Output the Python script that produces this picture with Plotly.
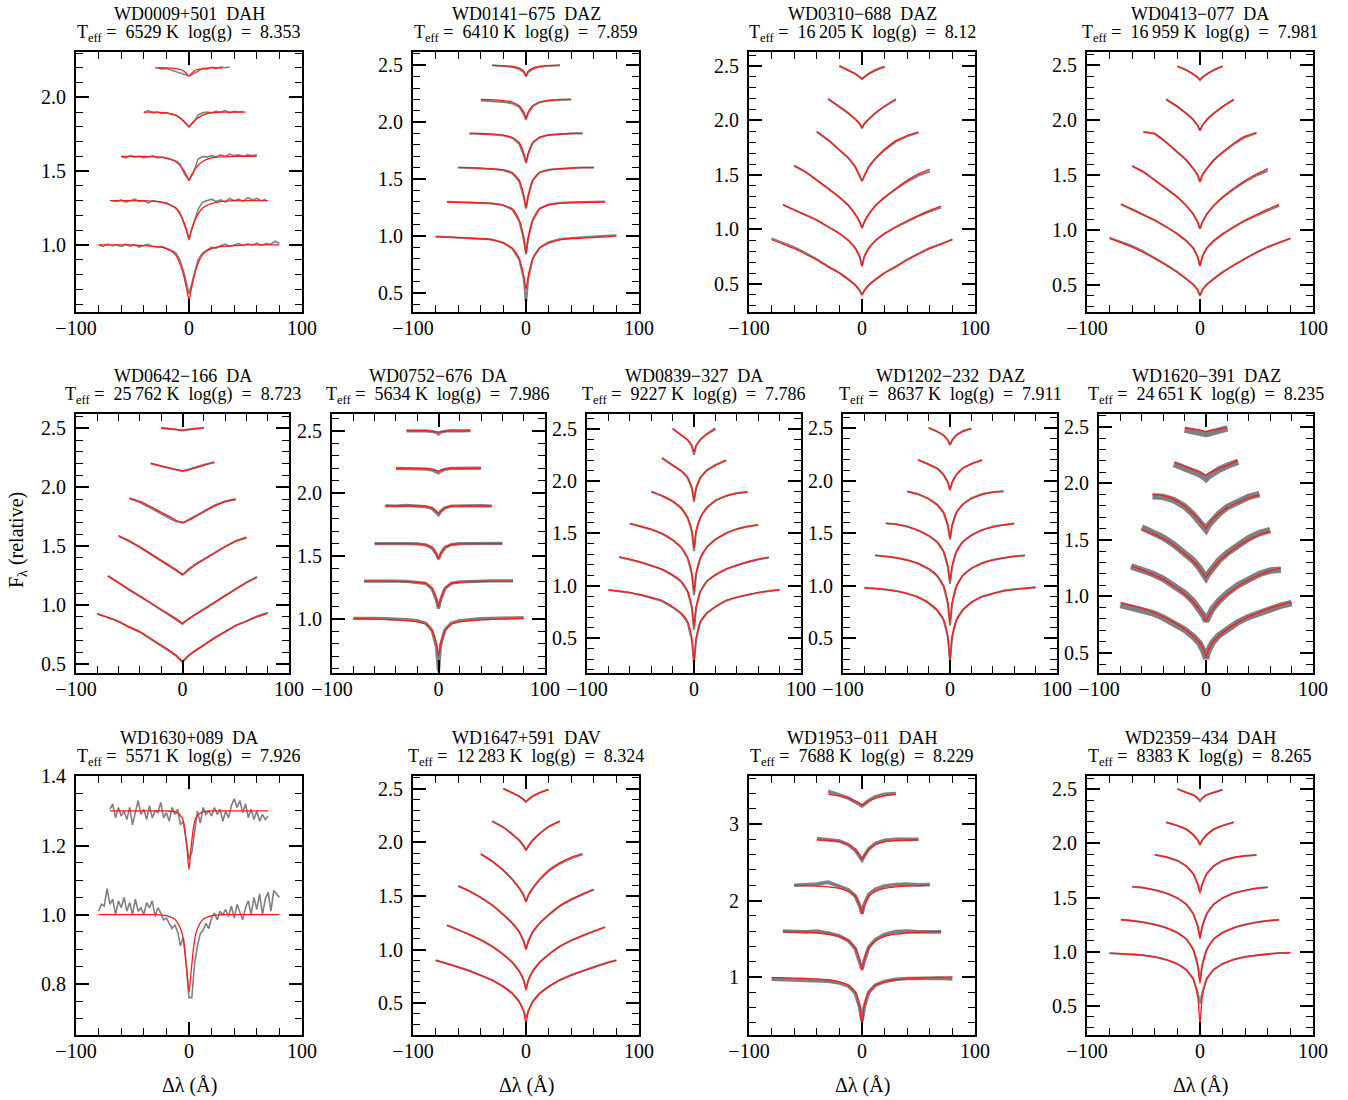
import plotly.graph_objects as go

N = None

# Wavelength offsets (Angstrom) of the sampled model / spectrum points
DL = [-80, -70, -60, -50, -40, -30, -20, -12, -6, -2, 0, 2, 6, 12, 20, 30, 40, 50, 60, 70, 80]

STARS = ["WD0009+501", "WD0141\u2212675", "WD0310\u2212688", "WD0413\u2212077",
         "WD0642\u2212166", "WD0752\u2212676", "WD0839\u2212327", "WD1202\u2212232", "WD1620\u2212391",
         "WD1630+089", "WD1647+591", "WD1953\u2212011", "WD2359\u2212434"]
SPTYPE = ["DAH", "DAZ", "DAZ", "DA", "DA", "DA", "DA", "DAZ", "DAZ", "DA", "DAV", "DAH", "DAH"]
TEFF = [6529, 6410, 16205, 16959, 25762, 5634, 9227, 8637, 24651, 5571, 12283, 7688, 8383]
LOGG = ["8.353", "7.859", "8.12", "7.981", "8.723", "7.986", "7.786", "7.911", "8.235",
        "7.926", "8.324", "8.229", "8.265"]

# ---------------- WD0009+501 (spectrum sampled every 4 A) ----------------
WD0009_MODEL = [
    [1.0, 1.0, 1.0, 1.0, 0.995, 0.99, 0.975, 0.935, 0.83, 0.70, 0.63, 0.70, 0.83, 0.935, 0.975, 0.99, 0.995, 1.0, 1.0, 1.0, 1.0],
    [N, 1.3, 1.3, 1.3, 1.3, 1.295, 1.28, 1.25, 1.18, 1.10, 1.035, 1.10, 1.18, 1.25, 1.28, 1.295, 1.3, 1.3, 1.3, 1.3, N],
    [N, N, 1.6, 1.6, 1.6, 1.597, 1.59, 1.565, 1.52, 1.47, 1.435, 1.47, 1.52, 1.565, 1.59, 1.597, 1.6, 1.6, 1.6, N, N],
    [N, N, N, N, 1.9, 1.9, 1.895, 1.88, 1.85, 1.82, 1.80, 1.82, 1.85, 1.88, 1.895, 1.9, 1.9, 1.9, N, N, N],
    [N, N, N, N, N, 2.2, 2.2, 2.195, 2.185, 2.16, 2.145, 2.16, 2.185, 2.195, 2.2, 2.2, N, N, N, N, N],
]
WD0009_OBS_START = [-80, -68, -60, -40, -28]
WD0009_OBS = [
    [1.0, 0.99, 1.005, 0.995, 1.0, 0.99, 1.005, 0.992, 1.0, 0.985, 0.997, 1.005, 0.99, 0.985, 0.99, 0.975,
     0.965, 0.95, 0.90, 0.80, 0.67, 0.79, 0.90, 0.945, 0.965, 0.985, 0.978, 0.995, 1.005, 0.99, 1.0, 1.01,
     0.995, 1.008, 1.0, 1.012, 0.997, 1.01, 1.004, 1.025, 1.01],
    [1.30, 1.295, 1.305, 1.29, 1.30, 1.31, 1.295, 1.30, 1.285, 1.30, 1.295, 1.29, 1.285, 1.27, 1.255, 1.22,
     1.13, 1.045, 1.14, 1.24, 1.29, 1.30, 1.31, 1.295, 1.305, 1.29, 1.315, 1.30, 1.31, 1.295, 1.32, 1.305,
     1.315, 1.30, 1.31],
    [1.60, 1.59, 1.605, 1.595, 1.60, 1.59, 1.598, 1.603, 1.59, 1.595, 1.585, 1.58, 1.57, 1.55, 1.48, 1.44,
     1.49, 1.58, 1.60, 1.595, 1.605, 1.598, 1.61, 1.60, 1.615, 1.605, 1.61, 1.60, 1.61, 1.605, 1.61],
    [1.895, 1.91, 1.895, 1.90, 1.89, 1.895, 1.885, 1.88, 1.86, 1.83, 1.80, 1.83, 1.88, 1.895, 1.90, 1.895,
     1.905, 1.90, 1.91, 1.895, 1.905, 1.90, 1.905],
    [2.20, 2.19, 2.195, 2.185, 2.175, 2.165, 2.15, 2.145, 2.16, 2.18, 2.195, 2.19, 2.205, 2.195, 2.205, 2.20, 2.205],
]

# ---------------- WD0141-675 ----------------
WD0141_MODEL = [
    [0.99, 0.99, 0.985, 0.98, 0.975, 0.965, 0.935, 0.89, 0.80, 0.65, 0.53, 0.65, 0.80, 0.89, 0.935, 0.965, 0.975, 0.98, 0.985, 0.99, 1.0],
    [N, 1.297, 1.295, 1.293, 1.29, 1.285, 1.27, 1.235, 1.14, 0.99, 0.85, 0.99, 1.14, 1.235, 1.27, 1.285, 1.29, 1.293, 1.295, 1.297, N],
    [N, N, 1.6, 1.6, 1.595, 1.59, 1.58, 1.555, 1.49, 1.36, 1.25, 1.36, 1.49, 1.555, 1.58, 1.59, 1.595, 1.6, 1.6, N, N],
    [N, N, N, 1.9, 1.9, 1.895, 1.885, 1.865, 1.82, 1.73, 1.65, 1.73, 1.82, 1.865, 1.885, 1.895, 1.9, 1.9, N, N, N],
    [N, N, N, N, 2.2, 2.198, 2.19, 2.175, 2.145, 2.09, 2.04, 2.09, 2.145, 2.175, 2.19, 2.198, 2.2, N, N, N, N],
    [N, N, N, N, N, 2.5, 2.497, 2.49, 2.475, 2.45, 2.41, 2.45, 2.475, 2.49, 2.497, 2.5, N, N, N, N, N],
]
WD0141_OBS = [
    [0.995, 0.99, 0.985, 0.98, 0.978, 0.968, 0.94, 0.885, 0.79, 0.62, 0.40, 0.62, 0.80, 0.895, 0.945, 0.972, 0.982, 0.99, 0.995, 1.0, 1.005],
    [N, 1.30, 1.297, 1.293, 1.29, 1.284, 1.268, 1.23, 1.13, 0.97, 0.84, 0.98, 1.14, 1.24, 1.275, 1.29, 1.295, 1.297, 1.3, 1.302, N],
    [N, N, 1.6, 1.598, 1.594, 1.588, 1.577, 1.55, 1.48, 1.34, 1.24, 1.35, 1.49, 1.558, 1.582, 1.592, 1.597, 1.6, 1.602, N, N],
    [N, N, N, 1.9, 1.898, 1.892, 1.882, 1.86, 1.81, 1.71, 1.64, 1.72, 1.82, 1.865, 1.888, 1.897, 1.9, 1.902, N, N, N],
    [N, N, N, N, 2.19, 2.185, 2.178, 2.165, 2.135, 2.07, 2.02, 2.08, 2.14, 2.175, 2.19, 2.198, 2.2, N, N, N, N],
    [N, N, N, N, N, 2.5, 2.495, 2.485, 2.468, 2.44, 2.40, 2.44, 2.468, 2.487, 2.495, 2.5, N, N, N, N, N],
]

# ---------------- WD0310-688 ----------------
WD0310_MODEL = [
    [0.908, 0.865, 0.826, 0.774, 0.72, 0.657, 0.60, 0.54, 0.49, 0.44, 0.398, 0.44, 0.49, 0.54, 0.60, 0.657, 0.72, 0.774, 0.826, 0.865, 0.908],
    [N, 1.229, 1.18, 1.135, 1.086, 1.025, 0.963, 0.90, 0.83, 0.75, 0.667, 0.75, 0.83, 0.90, 0.963, 1.025, 1.08, 1.13, 1.175, 1.214, N],
    [N, N, 1.586, 1.53, 1.454, 1.378, 1.295, 1.22, 1.14, 1.07, 1.015, 1.07, 1.14, 1.22, 1.295, 1.375, 1.45, 1.51, 1.552, N, N],
    [N, N, N, N, 1.899, 1.823, 1.73, 1.655, 1.575, 1.49, 1.445, 1.49, 1.575, 1.655, 1.735, 1.815, 1.862, 1.893, N, N, N],
    [N, N, N, N, N, 2.199, 2.128, 2.067, 2.012, 1.97, 1.93, 1.97, 2.012, 2.07, 2.13, 2.19, N, N, N, N, N],
    [N, N, N, N, N, N, 2.5, 2.457, 2.427, 2.396, 2.38, 2.396, 2.427, 2.46, 2.49, N, N, N, N, N, N],
]
WD0310_OBS = [
    [0.918, 0.878, 0.838, 0.785, 0.728, 0.662, 0.602, 0.542, 0.49, 0.44, 0.40, 0.44, 0.49, 0.542, 0.603, 0.662, 0.725, 0.778, 0.83, 0.868, 0.908],
    [N, 1.225, 1.178, 1.133, 1.085, 1.025, 0.963, 0.90, 0.83, 0.75, 0.665, 0.75, 0.83, 0.90, 0.962, 1.022, 1.075, 1.122, 1.165, 1.20, N],
    [N, N, 1.583, 1.528, 1.452, 1.377, 1.295, 1.22, 1.14, 1.07, 1.015, 1.07, 1.14, 1.22, 1.293, 1.37, 1.44, 1.495, 1.532, N, N],
    [N, N, N, N, 1.895, 1.82, 1.728, 1.655, 1.575, 1.49, 1.445, 1.49, 1.575, 1.652, 1.728, 1.805, 1.855, 1.888, N, N, N],
    [N, N, N, N, N, 2.197, 2.126, 2.065, 2.012, 1.97, 1.93, 1.97, 2.012, 2.068, 2.13, 2.195, N, N, N, N, N],
    [N, N, N, N, N, N, 2.5, 2.46, 2.43, 2.398, 2.382, 2.398, 2.43, 2.465, 2.495, N, N, N, N, N, N],
]

# ---------------- WD0413-077 ----------------
WD0413_MODEL = [
    [0.924, 0.885, 0.845, 0.795, 0.74, 0.68, 0.615, 0.555, 0.505, 0.455, 0.407, 0.455, 0.505, 0.555, 0.615, 0.68, 0.74, 0.795, 0.845, 0.885, 0.924],
    [N, 1.237, 1.19, 1.14, 1.09, 1.03, 0.965, 0.90, 0.835, 0.755, 0.675, 0.755, 0.835, 0.90, 0.965, 1.03, 1.09, 1.14, 1.19, 1.234, N],
    [N, N, 1.585, 1.53, 1.455, 1.38, 1.30, 1.22, 1.145, 1.07, 1.015, 1.07, 1.145, 1.22, 1.30, 1.38, 1.45, 1.51, 1.56, N, N],
    [N, N, N, 1.894, 1.878, 1.80, 1.71, 1.635, 1.56, 1.50, 1.44, 1.50, 1.56, 1.635, 1.71, 1.79, 1.855, 1.888, N, N, N],
    [N, N, N, N, N, 2.19, 2.125, 2.06, 2.005, 1.95, 1.91, 1.95, 2.005, 2.06, 2.125, 2.19, N, N, N, N, N],
    [N, N, N, N, N, N, 2.49, 2.455, 2.42, 2.39, 2.37, 2.39, 2.42, 2.455, 2.49, N, N, N, N, N, N],
]
WD0413_OBS = [
    [0.93, 0.895, 0.855, 0.805, 0.748, 0.686, 0.618, 0.556, 0.505, 0.455, 0.40, 0.455, 0.505, 0.556, 0.617, 0.682, 0.742, 0.797, 0.846, 0.886, 0.924],
    [N, 1.235, 1.188, 1.138, 1.088, 1.03, 0.965, 0.90, 0.835, 0.755, 0.675, 0.755, 0.835, 0.90, 0.963, 1.027, 1.085, 1.132, 1.178, 1.22, N],
    [N, N, 1.583, 1.528, 1.453, 1.378, 1.30, 1.22, 1.145, 1.07, 1.012, 1.07, 1.145, 1.22, 1.297, 1.372, 1.44, 1.497, 1.54, N, N],
    [N, N, N, 1.892, 1.876, 1.80, 1.71, 1.635, 1.56, 1.50, 1.44, 1.50, 1.56, 1.633, 1.705, 1.782, 1.845, 1.882, N, N, N],
    [N, N, N, N, N, 2.19, 2.124, 2.06, 2.005, 1.95, 1.905, 1.95, 2.005, 2.06, 2.123, 2.188, N, N, N, N, N],
    [N, N, N, N, N, N, 2.492, 2.456, 2.42, 2.39, 2.365, 2.39, 2.42, 2.456, 2.492, N, N, N, N, N, N],
]

# ---------------- WD0642-166 ----------------
WD0642_MODEL = [
    [0.924, 0.895, 0.86, 0.816, 0.774, 0.717, 0.66, 0.615, 0.575, 0.54, 0.52, 0.54, 0.575, 0.615, 0.66, 0.72, 0.775, 0.825, 0.865, 0.90, 0.93],
    [N, 1.246, 1.19, 1.127, 1.076, 1.02, 0.963, 0.92, 0.885, 0.86, 0.845, 0.86, 0.885, 0.92, 0.963, 1.02, 1.08, 1.135, 1.19, 1.235, N],
    [N, N, 1.588, 1.54, 1.494, 1.437, 1.38, 1.335, 1.30, 1.27, 1.255, 1.27, 1.30, 1.34, 1.385, 1.44, 1.495, 1.54, 1.571, N, N],
    [N, N, N, 1.907, 1.88, 1.836, 1.788, 1.75, 1.72, 1.705, 1.70, 1.705, 1.72, 1.75, 1.79, 1.84, 1.88, 1.90, N, N, N],
    [N, N, N, N, N, 2.204, 2.18, 2.163, 2.15, 2.143, 2.14, 2.143, 2.15, 2.163, 2.185, 2.21, N, N, N, N, N],
    [N, N, N, N, N, N, 2.5, 2.495, 2.49, 2.485, 2.483, 2.485, 2.49, 2.497, 2.505, N, N, N, N, N, N],
]
WD0642_OBS = [
    [0.928, 0.893, 0.862, 0.812, 0.772, 0.714, 0.655, 0.61, 0.57, 0.535, 0.515, 0.535, 0.572, 0.612, 0.66, 0.722, 0.772, 0.828, 0.862, 0.905, 0.935],
    [N, 1.248, 1.188, 1.13, 1.074, 1.018, 0.96, 0.915, 0.88, 0.855, 0.84, 0.857, 0.883, 0.92, 0.965, 1.022, 1.078, 1.138, 1.192, 1.24, N],
    [N, N, 1.586, 1.545, 1.49, 1.432, 1.37, 1.325, 1.29, 1.265, 1.26, 1.272, 1.305, 1.345, 1.39, 1.445, 1.497, 1.545, 1.575, N, N],
    [N, N, N, 1.905, 1.872, 1.825, 1.772, 1.735, 1.71, 1.70, 1.70, 1.705, 1.725, 1.755, 1.795, 1.845, 1.878, 1.895, N, N, N],
    [N, N, N, N, N, 2.2, 2.178, 2.16, 2.145, 2.138, 2.135, 2.14, 2.152, 2.168, 2.19, 2.212, N, N, N, N, N],
    [N, N, N, N, N, N, 2.505, 2.5, 2.49, 2.482, 2.48, 2.484, 2.49, 2.495, 2.503, N, N, N, N, N, N],
]

# ---------------- WD0752-676 ----------------
WD0752_MODEL = [
    [1.0, 1.0, 0.997, 0.995, 0.99, 0.985, 0.975, 0.955, 0.90, 0.80, 0.70, 0.80, 0.90, 0.955, 0.975, 0.985, 0.99, 0.995, 0.997, 1.0, 1.0],
    [N, 1.3, 1.3, 1.3, 1.298, 1.296, 1.29, 1.28, 1.24, 1.16, 1.09, 1.16, 1.24, 1.28, 1.29, 1.296, 1.298, 1.3, 1.3, 1.3, N],
    [N, N, 1.6, 1.6, 1.6, 1.6, 1.598, 1.59, 1.57, 1.52, 1.48, 1.52, 1.57, 1.59, 1.598, 1.6, 1.6, 1.6, 1.6, N, N],
    [N, N, N, 1.9, 1.9, 1.9, 1.9, 1.897, 1.885, 1.86, 1.84, 1.86, 1.885, 1.897, 1.9, 1.9, 1.9, 1.9, N, N, N],
    [N, N, N, N, 2.2, 2.2, 2.2, 2.2, 2.195, 2.185, 2.18, 2.185, 2.195, 2.2, 2.2, 2.2, 2.2, N, N, N, N],
    [N, N, N, N, N, 2.5, 2.5, 2.5, 2.497, 2.492, 2.49, 2.492, 2.497, 2.5, 2.5, 2.5, N, N, N, N, N],
]
WD0752_OBS = [
    [1.003, 1.005, 1.002, 1.0, 0.998, 0.993, 0.985, 0.965, 0.905, 0.78, 0.58, 0.79, 0.91, 0.965, 0.985, 0.995, 1.0, 1.003, 1.005, 1.006, 1.008],
    [N, 1.3, 1.302, 1.3, 1.3, 1.298, 1.292, 1.282, 1.238, 1.15, 1.08, 1.15, 1.24, 1.283, 1.294, 1.298, 1.3, 1.302, 1.303, 1.302, N],
    [N, N, 1.6, 1.602, 1.6, 1.6, 1.598, 1.59, 1.565, 1.515, 1.475, 1.515, 1.568, 1.592, 1.6, 1.602, 1.6, 1.603, 1.602, N, N],
    [N, N, N, 1.902, 1.9, 1.905, 1.9, 1.895, 1.88, 1.85, 1.83, 1.855, 1.885, 1.9, 1.902, 1.9, 1.903, 1.9, N, N, N],
    [N, N, N, N, 2.2, 2.198, 2.2, 2.195, 2.188, 2.17, 2.165, 2.178, 2.193, 2.2, 2.202, 2.2, 2.203, N, N, N, N],
    [N, N, N, N, N, 2.5, 2.503, 2.5, 2.495, 2.488, 2.475, 2.49, 2.497, 2.502, 2.5, 2.502, N, N, N, N, N],
]

# ---------------- WD0839-327 ----------------
WD0839_MODEL = [
    [0.962, 0.95, 0.936, 0.915, 0.89, 0.86, 0.80, 0.74, 0.66, 0.50, 0.28, 0.50, 0.66, 0.74, 0.80, 0.86, 0.89, 0.915, 0.936, 0.95, 0.962],
    [N, 1.275, 1.255, 1.227, 1.195, 1.16, 1.105, 1.045, 0.95, 0.80, 0.61, 0.80, 0.95, 1.045, 1.105, 1.16, 1.195, 1.23, 1.255, 1.272, N],
    [N, N, 1.596, 1.57, 1.54, 1.50, 1.44, 1.37, 1.27, 1.12, 0.946, 1.12, 1.27, 1.37, 1.44, 1.50, 1.54, 1.565, 1.582, N, N],
    [N, N, N, N, 1.898, 1.86, 1.81, 1.745, 1.655, 1.53, 1.362, 1.53, 1.655, 1.745, 1.81, 1.855, 1.88, 1.895, N, N, N],
    [N, N, N, N, N, 2.218, 2.15, 2.10, 2.035, 1.94, 1.824, 1.94, 2.035, 2.10, 2.15, 2.195, N, N, N, N, N],
    [N, N, N, N, N, N, 2.5, 2.44, 2.395, 2.34, 2.276, 2.34, 2.395, 2.445, 2.49, N, N, N, N, N, N],
]
WD0839_OBS = [
    [0.96, 0.948, 0.935, 0.912, 0.886, 0.855, 0.795, 0.735, 0.65, 0.48, 0.25, 0.49, 0.655, 0.738, 0.80, 0.858, 0.89, 0.915, 0.935, 0.95, 0.962],
    [N, 1.275, 1.253, 1.225, 1.192, 1.157, 1.10, 1.04, 0.945, 0.79, 0.58, 0.79, 0.945, 1.043, 1.105, 1.16, 1.197, 1.228, 1.252, 1.27, N],
    [N, N, 1.594, 1.568, 1.537, 1.497, 1.437, 1.365, 1.265, 1.11, 0.91, 1.11, 1.265, 1.37, 1.443, 1.503, 1.543, 1.567, 1.58, N, N],
    [N, N, N, N, 1.9, 1.858, 1.806, 1.74, 1.65, 1.52, 1.33, 1.52, 1.655, 1.748, 1.815, 1.86, 1.885, 1.897, N, N, N],
    [N, N, N, N, N, 2.222, 2.148, 2.097, 2.03, 1.93, 1.80, 1.93, 2.033, 2.102, 2.155, 2.2, N, N, N, N, N],
    [N, N, N, N, N, N, 2.502, 2.44, 2.393, 2.335, 2.25, 2.335, 2.397, 2.45, 2.505, N, N, N, N, N, N],
]

# ---------------- WD1202-232 ----------------
WD1202_MODEL = [
    [0.98, 0.975, 0.965, 0.95, 0.925, 0.895, 0.84, 0.77, 0.68, 0.52, 0.286, 0.52, 0.68, 0.77, 0.84, 0.895, 0.925, 0.95, 0.965, 0.977, 0.987],
    [N, 1.29, 1.28, 1.265, 1.245, 1.215, 1.165, 1.10, 1.00, 0.84, 0.65, 0.84, 1.00, 1.10, 1.165, 1.215, 1.245, 1.265, 1.28, 1.29, N],
    [N, N, 1.595, 1.585, 1.565, 1.53, 1.48, 1.42, 1.33, 1.19, 1.05, 1.19, 1.33, 1.42, 1.48, 1.53, 1.56, 1.58, 1.594, N, N],
    [N, N, N, N, 1.9, 1.875, 1.83, 1.775, 1.70, 1.58, 1.46, 1.58, 1.70, 1.775, 1.83, 1.87, 1.89, 1.9, N, N, N],
    [N, N, N, N, N, 2.2, 2.16, 2.12, 2.06, 1.99, 1.92, 1.99, 2.06, 2.12, 2.16, 2.195, N, N, N, N, N],
    [N, N, N, N, N, N, 2.505, 2.47, 2.435, 2.39, 2.35, 2.39, 2.435, 2.47, 2.495, N, N, N, N, N, N],
]
WD1202_OBS = [
    [0.982, 0.977, 0.966, 0.952, 0.928, 0.893, 0.835, 0.765, 0.675, 0.51, 0.28, 0.51, 0.675, 0.77, 0.845, 0.9, 0.93, 0.955, 0.968, 0.978, 0.985],
    [N, 1.292, 1.28, 1.267, 1.247, 1.213, 1.16, 1.095, 0.995, 0.83, 0.62, 0.83, 0.995, 1.10, 1.167, 1.218, 1.248, 1.267, 1.282, 1.29, N],
    [N, N, 1.597, 1.586, 1.565, 1.528, 1.477, 1.415, 1.325, 1.18, 1.02, 1.18, 1.325, 1.42, 1.483, 1.533, 1.565, 1.583, 1.595, N, N],
    [N, N, N, N, 1.898, 1.873, 1.828, 1.772, 1.695, 1.57, 1.44, 1.57, 1.697, 1.778, 1.835, 1.875, 1.895, 1.902, N, N, N],
    [N, N, N, N, N, 2.202, 2.158, 2.118, 2.057, 1.985, 1.91, 1.985, 2.06, 2.122, 2.165, 2.2, N, N, N, N, N],
    [N, N, N, N, N, N, 2.507, 2.47, 2.433, 2.385, 2.34, 2.385, 2.437, 2.475, 2.5, N, N, N, N, N, N],
]

# ---------------- WD1620-391 ----------------
WD1620_MODEL = [
    [0.94, 0.92, 0.895, 0.86, 0.82, 0.77, 0.71, 0.65, 0.59, 0.52, 0.466, 0.52, 0.59, 0.65, 0.71, 0.77, 0.82, 0.86, 0.895, 0.925, 0.947],
    [N, 1.267, 1.235, 1.195, 1.15, 1.09, 1.02, 0.95, 0.88, 0.82, 0.78, 0.82, 0.88, 0.95, 1.02, 1.09, 1.145, 1.19, 1.225, 1.252, N],
    [N, N, 1.589, 1.555, 1.51, 1.45, 1.375, 1.31, 1.245, 1.195, 1.163, 1.195, 1.245, 1.31, 1.375, 1.445, 1.50, 1.545, 1.574, N, N],
    [N, N, N, 1.9, 1.89, 1.86, 1.80, 1.73, 1.67, 1.625, 1.60, 1.63, 1.68, 1.73, 1.785, 1.83, 1.87, 1.9, N, N, N],
    [N, N, N, N, N, 2.184, 2.15, 2.12, 2.10, 2.08, 2.07, 2.085, 2.105, 2.13, 2.16, 2.2, N, N, N, N, N],
    [N, N, N, N, N, N, 2.49, 2.48, 2.47, 2.46, 2.456, 2.462, 2.47, 2.48, 2.495, N, N, N, N, N, N],
]
WD1620_OBS = [
    [0.925, 0.905, 0.885, 0.852, 0.812, 0.765, 0.705, 0.645, 0.585, 0.51, 0.45, 0.515, 0.59, 0.655, 0.715, 0.772, 0.818, 0.855, 0.89, 0.918, 0.94],
    [N, 1.265, 1.235, 1.20, 1.155, 1.098, 1.03, 0.958, 0.888, 0.825, 0.78, 0.825, 0.89, 0.958, 1.03, 1.10, 1.155, 1.198, 1.228, 1.235, N],
    [N, N, 1.61, 1.57, 1.52, 1.458, 1.385, 1.318, 1.252, 1.198, 1.165, 1.198, 1.252, 1.318, 1.385, 1.455, 1.515, 1.56, 1.585, N, N],
    [N, N, N, 1.885, 1.88, 1.85, 1.795, 1.725, 1.665, 1.62, 1.59, 1.625, 1.675, 1.73, 1.79, 1.838, 1.88, 1.905, N, N, N],
    [N, N, N, N, N, 2.17, 2.135, 2.105, 2.08, 2.055, 2.04, 2.06, 2.09, 2.12, 2.155, 2.19, N, N, N, N, N],
    [N, N, N, N, N, N, 2.475, 2.465, 2.45, 2.44, 2.435, 2.44, 2.455, 2.47, 2.485, N, N, N, N, N, N],
]

# ---------------- WD1630+089 (spectrum sampled every 2.5 A) ----------------
WD1630_MODEL = [
    [1.0, 1.0, 1.0, 1.0, 1.0, 1.0, 0.997, 0.985, 0.945, 0.84, 0.776, 0.84, 0.945, 0.985, 0.997, 1.0, 1.0, 1.0, 1.0, 1.0, 1.0],
    [N, 1.3, 1.3, 1.3, 1.3, 1.3, 1.3, 1.297, 1.28, 1.20, 1.13, 1.20, 1.28, 1.297, 1.3, 1.3, 1.3, 1.3, 1.3, 1.3, N],
]
WD1630_OBS_START = [-80, -70]
WD1630_OBS = [
    [1.01, 1.03, 1.025, 1.075, 1.03, 1.045, 1.00, 1.04, 1.02, 1.05, 1.01, 1.035, 1.00, 1.045, 1.01, 1.02,
     1.0, 1.035, 1.02, 1.04, 0.995, 1.02, 1.005, 0.985, 0.99, 0.975, 0.96, 0.97, 0.95, 0.91, 0.935, 0.86,
     0.76, 0.76, 0.86, 0.91, 0.945, 0.955, 0.975, 0.96, 0.99, 1.005, 0.985, 1.01, 1.0, 1.015, 0.995, 1.025,
     0.99, 1.03, 1.01, 0.985, 1.02, 1.04, 1.00, 1.05, 1.015, 1.06, 1.00, 1.045, 1.065, 1.01, 1.07, 1.06, 1.05],
    [1.305, 1.32, 1.28, 1.31, 1.285, 1.30, 1.275, 1.31, 1.26, 1.295, 1.33, 1.29, 1.305, 1.275, 1.315, 1.28,
     1.30, 1.295, 1.325, 1.28, 1.295, 1.27, 1.31, 1.29, 1.305, 1.26, 1.27, 1.215, 1.16, 1.18, 1.24, 1.30,
     1.265, 1.31, 1.29, 1.30, 1.285, 1.31, 1.29, 1.305, 1.27, 1.30, 1.28, 1.315, 1.335, 1.31, 1.33, 1.295,
     1.32, 1.28, 1.305, 1.275, 1.30, 1.27, 1.29, 1.275, 1.285],
]

# ---------------- WD1647+591 ----------------
WD1647_MODEL = [
    [0.90, 0.87, 0.835, 0.80, 0.76, 0.715, 0.655, 0.59, 0.515, 0.42, 0.315, 0.42, 0.515, 0.59, 0.655, 0.715, 0.76, 0.80, 0.835, 0.87, 0.90],
    [N, 1.227, 1.185, 1.14, 1.09, 1.03, 0.955, 0.88, 0.80, 0.71, 0.626, 0.71, 0.80, 0.88, 0.955, 1.03, 1.085, 1.13, 1.17, 1.21, N],
    [N, N, 1.593, 1.545, 1.485, 1.415, 1.325, 1.245, 1.165, 1.075, 1.0, 1.075, 1.165, 1.245, 1.325, 1.41, 1.47, 1.52, 1.56, N, N],
    [N, N, N, N, 1.89, 1.825, 1.74, 1.655, 1.575, 1.505, 1.444, 1.505, 1.575, 1.655, 1.74, 1.81, 1.86, 1.894, N, N, N],
    [N, N, N, N, N, 2.196, 2.14, 2.075, 2.02, 1.965, 1.93, 1.965, 2.02, 2.08, 2.145, 2.195, N, N, N, N, N],
    [N, N, N, N, N, N, 2.5, 2.46, 2.43, 2.40, 2.385, 2.40, 2.43, 2.46, 2.49, N, N, N, N, N, N],
]
WD1647_OBS = [
    [0.90, 0.872, 0.838, 0.803, 0.762, 0.716, 0.655, 0.588, 0.515, 0.43, 0.36, 0.43, 0.515, 0.59, 0.655, 0.717, 0.763, 0.803, 0.838, 0.872, 0.902],
    [N, 1.227, 1.186, 1.14, 1.09, 1.03, 0.955, 0.88, 0.80, 0.715, 0.64, 0.715, 0.80, 0.88, 0.955, 1.03, 1.085, 1.132, 1.172, 1.21, N],
    [N, N, 1.593, 1.545, 1.485, 1.415, 1.325, 1.245, 1.165, 1.078, 1.005, 1.078, 1.165, 1.245, 1.323, 1.405, 1.465, 1.515, 1.56, N, N],
    [N, N, N, N, 1.892, 1.823, 1.738, 1.653, 1.573, 1.505, 1.45, 1.505, 1.573, 1.65, 1.73, 1.8, 1.85, 1.885, N, N, N],
    [N, N, N, N, N, 2.198, 2.14, 2.073, 2.018, 1.965, 1.925, 1.965, 2.02, 2.08, 2.147, 2.198, N, N, N, N, N],
    [N, N, N, N, N, N, 2.5, 2.462, 2.428, 2.397, 2.375, 2.397, 2.43, 2.463, 2.492, N, N, N, N, N, N],
]

# ---------------- WD1953-011 ----------------
WD1953_MODEL = [
    [0.99, 0.99, 0.985, 0.98, 0.975, 0.963, 0.935, 0.89, 0.80, 0.62, 0.385, 0.62, 0.80, 0.89, 0.935, 0.963, 0.975, 0.983, 0.99, 0.995, 1.0],
    [N, 1.593, 1.59, 1.585, 1.575, 1.56, 1.53, 1.47, 1.38, 1.22, 1.088, 1.22, 1.38, 1.47, 1.53, 1.56, 1.575, 1.585, 1.59, 1.593, N],
    [N, N, 2.198, 2.195, 2.19, 2.18, 2.16, 2.12, 2.06, 1.94, 1.824, 1.94, 2.06, 2.12, 2.16, 2.18, 2.19, 2.195, 2.198, N, N],
    [N, N, N, N, 2.795, 2.788, 2.77, 2.73, 2.67, 2.59, 2.538, 2.59, 2.67, 2.73, 2.77, 2.785, 2.792, 2.795, N, N, N],
    [N, N, N, N, N, 3.39, 3.37, 3.34, 3.30, 3.27, 3.25, 3.27, 3.30, 3.34, 3.37, 3.395, N, N, N, N, N],
]
WD1953_OBS = [
    [0.97, 0.965, 0.96, 0.955, 0.95, 0.945, 0.92, 0.88, 0.79, 0.60, 0.42, 0.61, 0.80, 0.895, 0.94, 0.968, 0.98, 0.985, 0.99, 0.985, 0.975],
    [N, 1.60, 1.595, 1.59, 1.60, 1.575, 1.535, 1.475, 1.37, 1.20, 1.10, 1.21, 1.39, 1.49, 1.555, 1.595, 1.60, 1.59, 1.585, 1.59, N],
    [N, N, 2.20, 2.205, 2.215, 2.24, 2.19, 2.14, 2.06, 1.93, 1.83, 1.95, 2.08, 2.15, 2.19, 2.21, 2.215, 2.205, 2.21, N, N],
    [N, N, N, N, 2.81, 2.795, 2.78, 2.73, 2.66, 2.575, 2.53, 2.585, 2.675, 2.75, 2.79, 2.80, 2.805, 2.80, N, N, N],
    [N, N, N, N, N, 3.43, 3.38, 3.34, 3.29, 3.255, 3.24, 3.26, 3.31, 3.36, 3.39, 3.40, N, N, N, N, N],
]

# ---------------- WD2359-434 ----------------
WD2359_MODEL = [
    [0.985, 0.98, 0.975, 0.965, 0.95, 0.925, 0.885, 0.83, 0.745, 0.58, 0.335, 0.58, 0.745, 0.83, 0.885, 0.925, 0.95, 0.965, 0.975, 0.985, 0.99],
    [N, 1.294, 1.285, 1.27, 1.25, 1.22, 1.175, 1.115, 1.02, 0.87, 0.706, 0.87, 1.02, 1.115, 1.175, 1.22, 1.25, 1.27, 1.285, 1.294, N],
    [N, N, 1.6, 1.59, 1.57, 1.54, 1.495, 1.435, 1.35, 1.23, 1.12, 1.23, 1.35, 1.435, 1.495, 1.54, 1.565, 1.585, 1.594, N, N],
    [N, N, N, N, 1.895, 1.875, 1.84, 1.79, 1.72, 1.62, 1.543, 1.62, 1.72, 1.79, 1.84, 1.87, 1.885, 1.892, N, N, N],
    [N, N, N, N, N, 2.195, 2.165, 2.13, 2.08, 2.03, 1.985, 2.03, 2.08, 2.13, 2.165, 2.195, N, N, N, N, N],
    [N, N, N, N, N, N, 2.505, 2.47, 2.45, 2.42, 2.398, 2.42, 2.45, 2.47, 2.495, N, N, N, N, N, N],
]
WD2359_OBS = [
    [0.985, 0.98, 0.975, 0.965, 0.95, 0.925, 0.885, 0.83, 0.748, 0.62, 0.52, 0.62, 0.75, 0.832, 0.887, 0.927, 0.952, 0.967, 0.977, 0.987, 0.99],
    [N, 1.295, 1.286, 1.27, 1.25, 1.22, 1.175, 1.115, 1.02, 0.875, 0.74, 0.875, 1.02, 1.115, 1.175, 1.22, 1.25, 1.27, 1.286, 1.295, N],
    [N, N, 1.6, 1.59, 1.57, 1.54, 1.495, 1.435, 1.35, 1.235, 1.14, 1.235, 1.35, 1.435, 1.495, 1.54, 1.566, 1.585, 1.594, N, N],
    [N, N, N, N, 1.895, 1.875, 1.84, 1.79, 1.72, 1.625, 1.555, 1.625, 1.72, 1.79, 1.84, 1.87, 1.886, 1.893, N, N, N],
    [N, N, N, N, N, 2.196, 2.165, 2.13, 2.08, 2.03, 1.99, 2.03, 2.08, 2.13, 2.165, 2.197, N, N, N, N, N],
    [N, N, N, N, N, N, 2.505, 2.47, 2.448, 2.418, 2.39, 2.418, 2.45, 2.472, 2.497, N, N, N, N, N, N],
]

# (model, spectrum, spectrum step in A or None when sampled on DL, spectrum start offsets)
PANELS = [
    (WD0009_MODEL, WD0009_OBS, 4.0, WD0009_OBS_START),
    (WD0141_MODEL, WD0141_OBS, None, None),
    (WD0310_MODEL, WD0310_OBS, None, None),
    (WD0413_MODEL, WD0413_OBS, None, None),
    (WD0642_MODEL, WD0642_OBS, None, None),
    (WD0752_MODEL, WD0752_OBS, None, None),
    (WD0839_MODEL, WD0839_OBS, None, None),
    (WD1202_MODEL, WD1202_OBS, None, None),
    (WD1620_MODEL, WD1620_OBS, None, None),
    (WD1630_MODEL, WD1630_OBS, 2.5, WD1630_OBS_START),
    (WD1647_MODEL, WD1647_OBS, None, None),
    (WD1953_MODEL, WD1953_OBS, None, None),
    (WD2359_MODEL, WD2359_OBS, None, None),
]

# ---------------- layout (pixel boxes of each frame) ----------------
W, H = 1348, 1100
ROW_Y = [(52, 312), (414, 673), (776, 1035)]
COLS_4 = [(76, 302), (413, 639), (749, 975), (1087, 1313)]
COLS_5 = [(76, 289), (332, 545), (587, 801), (843, 1057), (1099, 1313)]
BOXES = ([(c, ROW_Y[0]) for c in COLS_4] + [(c, ROW_Y[1]) for c in COLS_5]
         + [(c, ROW_Y[2]) for c in COLS_4])

Y_RANGE = [(0.546, 2.307), (0.330, 2.617), (0.243, 2.628), (0.254, 2.621),
           (0.424, 2.621), (0.566, 2.635), (0.168, 2.64), (0.17, 2.637), (0.322, 2.613),
           (0.652, 1.401), (0.204, 2.618), (0.24, 3.63), (0.228, 2.624)]
Y_DTICK = [0.5] * 9 + [0.2, 0.5, 1.0, 0.5]
Y_MINOR = [0.1] * 9 + [0.05, 0.1, 0.2, 0.1]
Y_FMT = [".1f"] * 11 + [".0f", ".1f"]
GREY_W = [1.6, 2.0, 2.0, 2.0, 2.0, 3.2, 2.0, 2.0, 6.5, 1.6, 2.0, 3.6, 2.0]

FONT = "Liberation Serif, Times New Roman, serif"
GREY = "#808080"
RED = "#ff1a1a"

fig = go.Figure()
layout_axes = {}
annotations = []

for i, (model, obs, step, starts) in enumerate(PANELS):
    sfx = "" if i == 0 else str(i + 1)
    xref, yref = "x" + sfx, "y" + sfx
    (x0, x1), (y0, y1) = BOXES[i]

    for k, mline in enumerate(model):
        if step is None:
            ox = DL
        else:
            ox = [starts[k] + step * j for j in range(len(obs[k]))]
        fig.add_trace(go.Scatter(x=ox, y=obs[k], mode="lines", xaxis=xref, yaxis=yref,
                                 line=dict(color=GREY, width=GREY_W[i]), showlegend=False,
                                 hoverinfo="skip"))
        fig.add_trace(go.Scatter(x=DL, y=mline, mode="lines", xaxis=xref, yaxis=yref,
                                 line=dict(color=RED, width=1.3, shape="spline", smoothing=0.7),
                                 showlegend=False, hoverinfo="skip"))

    common = dict(showline=True, linewidth=2, linecolor="black", mirror="allticks",
                  ticks="inside", tickwidth=1.5, tickcolor="black", ticklen=13,
                  showgrid=False, zeroline=False, automargin=False,
                  tickfont=dict(family=FONT, size=20, color="black"))
    layout_axes["xaxis" + sfx] = dict(
        common, domain=[x0 / W, x1 / W], range=[-100, 100], anchor=yref,
        tickmode="array", tickvals=[-100, 0, 100], ticklabelstandoff=-3,
        minor=dict(ticks="inside", ticklen=7, tickwidth=1.2, tickcolor="black", dtick=20, tick0=0))
    layout_axes["yaxis" + sfx] = dict(
        common, domain=[1 - y1 / H, 1 - y0 / H], range=list(Y_RANGE[i]), anchor=xref,
        tickmode="linear", tick0=0, dtick=Y_DTICK[i], tickformat=Y_FMT[i], ticklabelstandoff=4,
        minor=dict(ticks="inside", ticklen=7, tickwidth=1.2, tickcolor="black",
                   dtick=Y_MINOR[i], tick0=0))

    # two-line panel heading
    teff = TEFF[i]
    teff_txt = f"{teff // 1000}\u2009{teff % 1000:03d}" if teff >= 10000 else str(teff)
    nb = "\u00a0"
    cx = (x0 + x1) / 2 / W
    annotations.append(dict(text=f"{STARS[i]}{nb}{nb}{SPTYPE[i]}", x=cx, y=1 - (y0 - 38) / H,
                            xref="paper", yref="paper", showarrow=False, xanchor="center",
                            yanchor="middle", font=dict(family=FONT, size=18, color="black")))
    line2 = (f"T<sub>eff</sub>{nb}={nb}{nb}{teff_txt}{nb}K{nb}{nb}log(g){nb}{nb}={nb}{nb}{LOGG[i]}")
    annotations.append(dict(text=line2, x=cx, y=1 - (y0 - 19) / H,
                            xref="paper", yref="paper", showarrow=False, xanchor="center",
                            yanchor="middle", font=dict(family=FONT, size=18, color="black")))

    if i >= 9:
        annotations.append(dict(text="\u0394\u03bb (\u00c5)", x=cx, y=1 - 1085 / H,
                                xref="paper", yref="paper", showarrow=False, xanchor="center",
                                yanchor="middle", font=dict(family=FONT, size=20, color="black")))

annotations.append(dict(text="F<sub>\u03bb</sub> (relative)", x=17 / W, y=1 - 540 / H,
                        xref="paper", yref="paper", showarrow=False, textangle=-90,
                        xanchor="center", yanchor="middle",
                        font=dict(family=FONT, size=20, color="black")))

fig.update_layout(width=W, height=H, margin=dict(l=0, r=0, t=0, b=0, autoexpand=False),
                  paper_bgcolor="white", plot_bgcolor="white",
                  annotations=annotations, **layout_axes)

fig.write_html("out.html")
